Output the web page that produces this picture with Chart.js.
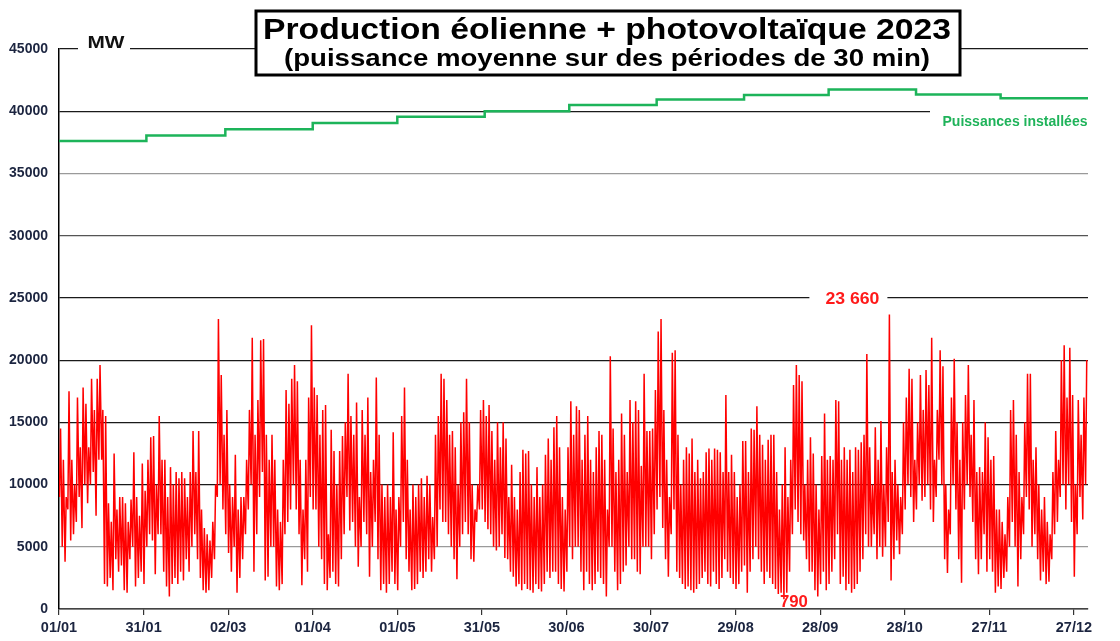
<!DOCTYPE html>
<html>
<head>
<meta charset="utf-8">
<script src="https://cdn.jsdelivr.net/npm/chart.js@4"></script>
<style>
  html, body { margin: 0; padding: 0; background: #fff; }
  #wrap { width: 1120px; height: 641px; }
</style>
</head>
<body>
<div id="wrap"><canvas id="chart" width="1120" height="641"></canvas></div>
<script>
// Production éolien + PV 2023 (GW, un max et un min par jour)
const dailyMaxGW = [
  14.5,12,9,17.5,12,10,17,13,17.8,16.5,
  13,18.5,16,18.5,19.6,16,15.5,8.5,7,12.5,
  8,9,9,8.5,7,8.8,12.6,9,7.5,11.7,
  9.5,12,13.8,13.9,10,15.5,12,12,9,11.4,
  10,11,10.5,11,10.5,9,11,14.3,11,14.3,
  8,6.5,6,5.5,7,10,23.3,18.8,14,16,
  10,9,12.4,8,9,9,12,16,21.8,14,
  16.8,21.6,21.7,14,12,14,12,8,7,12,
  17.6,16.5,18.5,19.6,18.3,12,8,12,17,22.8,
  17.8,17.2,14,16,16.4,6,14.4,12.7,10,12.7,
  13.9,15,18.9,15.5,14,16.6,9,16,14,17,
  11,12,18.6,14,10,9,10,9,14.2,8,
  9,15.5,17.8,12,8,10,9,10,10.5,9,
  10.7,10,7.4,14,15.5,18.9,18.5,16.8,14,14.3,
  13,10,15,15.8,18.5,15,10,8,10,16,
  16.8,15.5,16.4,14.3,12,15,13,15,13.7,9,
  11.6,9,8,11,12.8,12.5,12.7,10,9,11.4,
  9,10,12.4,13.7,12,14.6,15.5,13,9,8,
  13,16.7,14,16.3,16,12,14,15.5,12,11,
  13,14.3,14,12,8,20.3,14.5,11,12,15.7,
  14,11,16.8,15,16.7,16,11.5,18.9,14.3,14.3,
  14.5,17.6,22.3,23.3,16,12,9,20.6,20.8,14,
  10,12,13,12.5,13.7,11,12,10.5,11,12.6,
  12.9,12,12.9,12.8,12.6,11,17.2,11,12.4,11,
  9,10,13.5,13.5,11,14.5,14.4,16.3,14,13.2,
  12,13.6,14,14,11,8,10,13,9,12,
  18,19.6,18.8,18.3,10,12,13.8,12.5,10,8,
  12.3,15.7,12,12.3,12,16.8,16.7,12,13,12,
  12.8,11,13,12.8,13.4,14,20.5,13,10,14.6,
  12,15.1,10,13,23.66,11,12,10,9,15,
  17,19.3,18.5,12,15,18.8,16,19.2,18,21.8,
  12,16,20.8,19.5,10,8,17,20.1,15,12,
  15,17.2,19.6,14,16.8,11,11.4,11,15,13.8,
  12,12.3,8,8,7,6,9,16,16.8,14,
  11,9,15,18.9,18.9,12,13,10,8,9,
  7,6,11,14.3,12,20,21.2,17,21,17.2,
  10,16.8,14,17,20
];
const dailyMinGW = [
  9,5,3.8,8,5.5,6,7,9,6.5,10,
  8.5,10,11,7.5,12,12,2,1.8,2.5,1.5,
  4,3,3.5,1.5,1.3,4,5,1.8,2.5,3,
  2,5,6,5.5,2.8,6,6,3,1.8,1.0,
  2,2.5,2,3,2.3,4,3,5,6,4,
  2.5,1.5,1.3,1.5,2.5,4,9,10,8,6,
  4.5,3,5,1.3,2.5,4,6,8,10,3,
  6,9,11,2.3,2.6,5,5,1.8,1.5,2,
  6,7,8,10,8,6,1.9,4,3,9,
  8,8,5,4,2,1.5,2.5,3,2,1.8,
  4,6,9,6.3,7,5,3.4,5,7,6,
  2.6,5,7,4,1.5,2,1.3,2,3,2,
  1.5,5,7,4,3,1.5,1.6,2,3,2.5,
  3,4,3,4,5,8,7,7,6,5,
  4,2.4,5,6,7,6,4,3.8,7,8,
  8,7,6.4,6,5,4.7,5,6,4.1,4,
  3,2.6,1.8,2,1.5,2,1.6,1.5,1.3,2,
  1.6,1.4,2,3,2.5,3,3,2,1.6,1.4,
  3,5,4,5,5,3,1.5,3,2,1.5,
  2,3,2.5,2,1.0,5,5,3,1.5,2,
  3,3.5,5,4,4,3,2.8,5,5,5,
  4,6,8,9,6.5,4,2.6,6,8,3,
  2.5,2,1.6,1.8,1.5,1.3,1.6,2,2.5,3,
  2,1.8,3,2,1.6,2.5,4,3,2.5,2,
  1.6,2,3,3.5,1.3,3,4,5,4,3,
  2,3,2.5,2,1.6,1.2,1.3,0.79,1.3,3,
  6,8,7,6,5.5,4,3,3,1.5,1.0,
  2,3,1.5,2,3,4,6,2,2.6,1.5,
  2,1.3,1.6,2,3,4,6,5,5,6,
  4,5,4.2,5,7,2.3,4,5.5,4.4,6,
  8,10,9,7,8,10,8.7,9,10,8,
  7,9,12,10,4,2.9,6,10,8,4,
  2.1,8,10,9,7,4,2.8,4,6,3,
  4,3,1.3,1.8,1.6,2.5,3,5,7,5,
  1.8,4,6,9,8,5,6,4,2.3,3,
  2,2.2,4,6,7,9,10,8,10,7,
  2.6,6,9,7.2,10
];

// Puissances installées (MW), une valeur par mois
const monthStartDays = [0, 31, 59, 90, 120, 151, 181, 212, 243, 273, 304, 334];
const installedMW = [37600, 38050, 38550, 39050, 39550, 40000, 40500, 40950, 41300, 41750, 41350, 41050];

const tickDays = [0, 30, 60, 90, 120, 150, 180, 210, 240, 270, 300, 330, 360];
const tickLabels = ['01/01','31/01','02/03','01/04','01/05','31/05','30/06','30/07','29/08','28/09','28/10','27/11','27/12'];
const yTicks = [0, 5000, 10000, 15000, 20000, 25000, 30000, 35000, 40000, 45000];

// points de la courbe rouge : creux la nuit, pic en journée
const prodPoints = [];
dailyMaxGW.forEach((hi, d) => {
  prodPoints.push({ x: d + 0.15, y: dailyMinGW[d] * 1000 });
  prodPoints.push({ x: d + 0.55, y: hi * 1000 });
});

const capPoints = monthStartDays.map((d, i) => ({ x: d, y: installedMW[i] }));
capPoints.push({ x: 365, y: installedMW[installedMW.length - 1] });

const FONT = '"Liberation Sans", Arial, sans-serif';

// texte étiré horizontalement pour tenir dans une largeur donnée
function fitText(ctx, text, cx, baseline, font, width) {
  ctx.font = font;
  const w = ctx.measureText(text).width;
  ctx.save();
  ctx.translate(cx, baseline);
  ctx.scale(width / w, 1);
  ctx.textAlign = 'center';
  ctx.fillText(text, 0, 0);
  ctx.restore();
}

const decorations = {
  id: 'decorations',
  beforeDatasetsDraw(chart) {
    const { ctx, chartArea, scales: { x, y } } = chart;
    ctx.save();
    ctx.fillStyle = '#fff';
    // trou dans la ligne 45000 pour "MW"
    ctx.fillRect(78, y.getPixelForValue(45000) - 3, 52, 6);
    // ligne 40000 arrêtée avant le libellé
    ctx.fillRect(930, y.getPixelForValue(40000) - 3, chartArea.right - 930 + 2, 6);
    // trou dans la ligne 25000 pour le maximum
    const maxGW = Math.max(...dailyMaxGW);
    const maxX = x.getPixelForValue(dailyMaxGW.indexOf(maxGW) + 0.55);
    ctx.fillRect(maxX - 80, y.getPixelForValue(25000) - 3, 78, 6);
    ctx.restore();
  },
  afterDraw(chart) {
    const { ctx, scales: { x, y } } = chart;
    ctx.save();
    // titre encadré
    ctx.fillStyle = '#fff';
    ctx.fillRect(256, 11, 704, 64);
    ctx.strokeStyle = '#000';
    ctx.lineWidth = 3;
    ctx.strokeRect(256, 11, 704, 64);
    ctx.fillStyle = '#000';
    ctx.textBaseline = 'alphabetic';
    fitText(ctx, 'Production éolienne + photovoltaïque 2023', 607, 39, 'bold 29px ' + FONT, 688);
    fitText(ctx, '(puissance moyenne sur des périodes de 30 min)', 607, 66, 'bold 24px ' + FONT, 646);

    ctx.fillStyle = '#111';
    fitText(ctx, 'MW', 106, 48, 'bold 17px ' + FONT, 37);

    ctx.fillStyle = '#1fb35a';
    fitText(ctx, 'Puissances installées', 1015, 126, 'bold 14px ' + FONT, 145);

    // max et min
    const maxGW = Math.max(...dailyMaxGW);
    const maxX = x.getPixelForValue(dailyMaxGW.indexOf(maxGW) + 0.55);
    ctx.fillStyle = '#ff1a1a';
    const maxTxt = Math.round(maxGW * 1000).toLocaleString('fr-FR').replace(/\s/g, ' ');
    fitText(ctx, maxTxt, maxX - 37, y.getPixelForValue(25000) + 6, 'bold 16px ' + FONT, 54);
    const minGW = Math.min(...dailyMinGW);
    const minX = x.getPixelForValue(dailyMinGW.indexOf(minGW) + 0.15);
    fitText(ctx, String(Math.round(minGW * 1000)), minX + 10, 607, 'bold 17px ' + FONT, 28);
    ctx.restore();
  }
};

new Chart(document.getElementById('chart'), {
  type: 'line',
  data: {
    datasets: [
      {
        label: 'Production',
        data: prodPoints,
        borderColor: '#ff0000',
        borderWidth: 1.5,
        pointRadius: 0,
        tension: 0
      },
      {
        label: 'Puissances installées',
        data: capPoints,
        borderColor: '#1db45a',
        borderWidth: 2.5,
        pointRadius: 0,
        stepped: true
      }
    ]
  },
  options: {
    responsive: false,
    animation: false,
    events: [],
    layout: { padding: { top: 49, right: 32, left: 0, bottom: 0 } },
    plugins: { legend: { display: false }, tooltip: { enabled: false } },
    scales: {
      x: {
        type: 'linear',
        min: 0,
        max: 365,
        afterBuildTicks(axis) { axis.ticks = tickDays.map(v => ({ value: v })); },
        afterFit(axis) { axis.height = 32; },
        grid: { drawOnChartArea: false, drawTicks: true, tickLength: 6, color: '#333', lineWidth: 1.2 },
        border: { color: '#444', width: 1.5 },
        ticks: {
          autoSkip: false,
          maxRotation: 0,
          padding: 4,
          color: '#1c2540',
          font: { family: FONT, size: 14.5, weight: 'bold' },
          callback: v => tickLabels[tickDays.indexOf(v)]
        }
      },
      y: {
        min: 0,
        max: 45000,
        afterBuildTicks(axis) { axis.ticks = yTicks.map(v => ({ value: v })); },
        afterFit(axis) { axis.width = 59; },
        grid: {
          drawTicks: false,
          lineWidth: 1.2,
          color: c => {
            const v = c.tick ? c.tick.value : 0;
            if (v === 5000 || v === 35000) return '#9a9a9a';
            if (v === 30000) return '#555';
            return '#1a1a1a';
          }
        },
        border: { color: '#000', width: 1.5 },
        ticks: {
          padding: 11,
          color: '#1c2540',
          font: { family: FONT, size: 14, weight: 'bold' },
          callback: v => String(v)
        }
      }
    }
  },
  plugins: [decorations]
});
</script>
</body>
</html>
